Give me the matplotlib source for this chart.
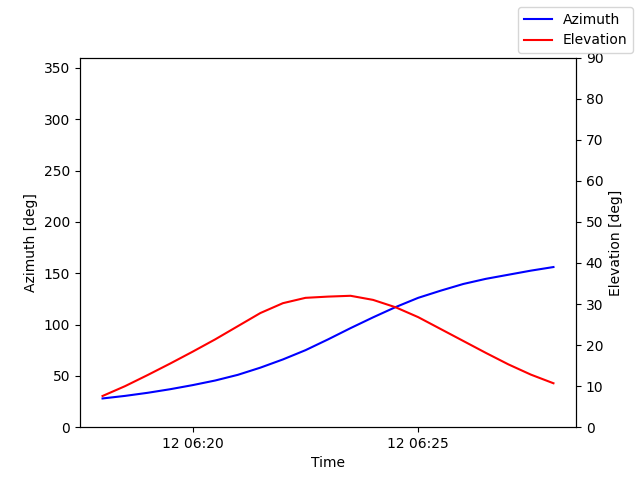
import numpy as np
import matplotlib
matplotlib.use("Agg")
import matplotlib.pyplot as plt
import matplotlib.dates as mdates

# samples every 30 s starting 06:18:00 on day 12
start_time = np.datetime64("2024-03-12T06:18:00")
n_samples = 21
times = start_time + np.arange(n_samples) * np.timedelta64(30, "s")

azimuth = [28, 30.5, 33.5, 37, 41, 45.5, 51, 58, 66, 75, 85.5,
           96.5, 107, 117, 126, 133, 139.5, 144.5, 148.5, 152.5, 156]
elevation = [7.6, 10.0, 12.7, 15.5, 18.4, 21.4, 24.6, 27.8, 30.2, 31.5, 31.8,
             32.0, 31.0, 29.2, 26.8, 23.9, 21.0, 18.1, 15.3, 12.8, 10.7]

fig, ax = plt.subplots(figsize=(6.4, 4.8), dpi=100)
ax.plot(times, azimuth, color="blue", label="Azimuth")
ax.set_ylim(0, 360)
ax.set_ylabel("Azimuth [deg]")
ax.set_xlabel("Time")
ax.xaxis.set_major_locator(mdates.MinuteLocator(byminute=range(0, 60, 5)))
ax.xaxis.set_major_formatter(mdates.DateFormatter("%d %H:%M"))

ax2 = ax.twinx()
ax2.plot(times, elevation, color="red", label="Elevation")
ax2.set_ylim(0, 90)
ax2.set_yticks(range(0, 91, 10))
ax2.set_ylabel("Elevation [deg]")

fig.legend(loc="upper right")
fig.savefig("out.png")
